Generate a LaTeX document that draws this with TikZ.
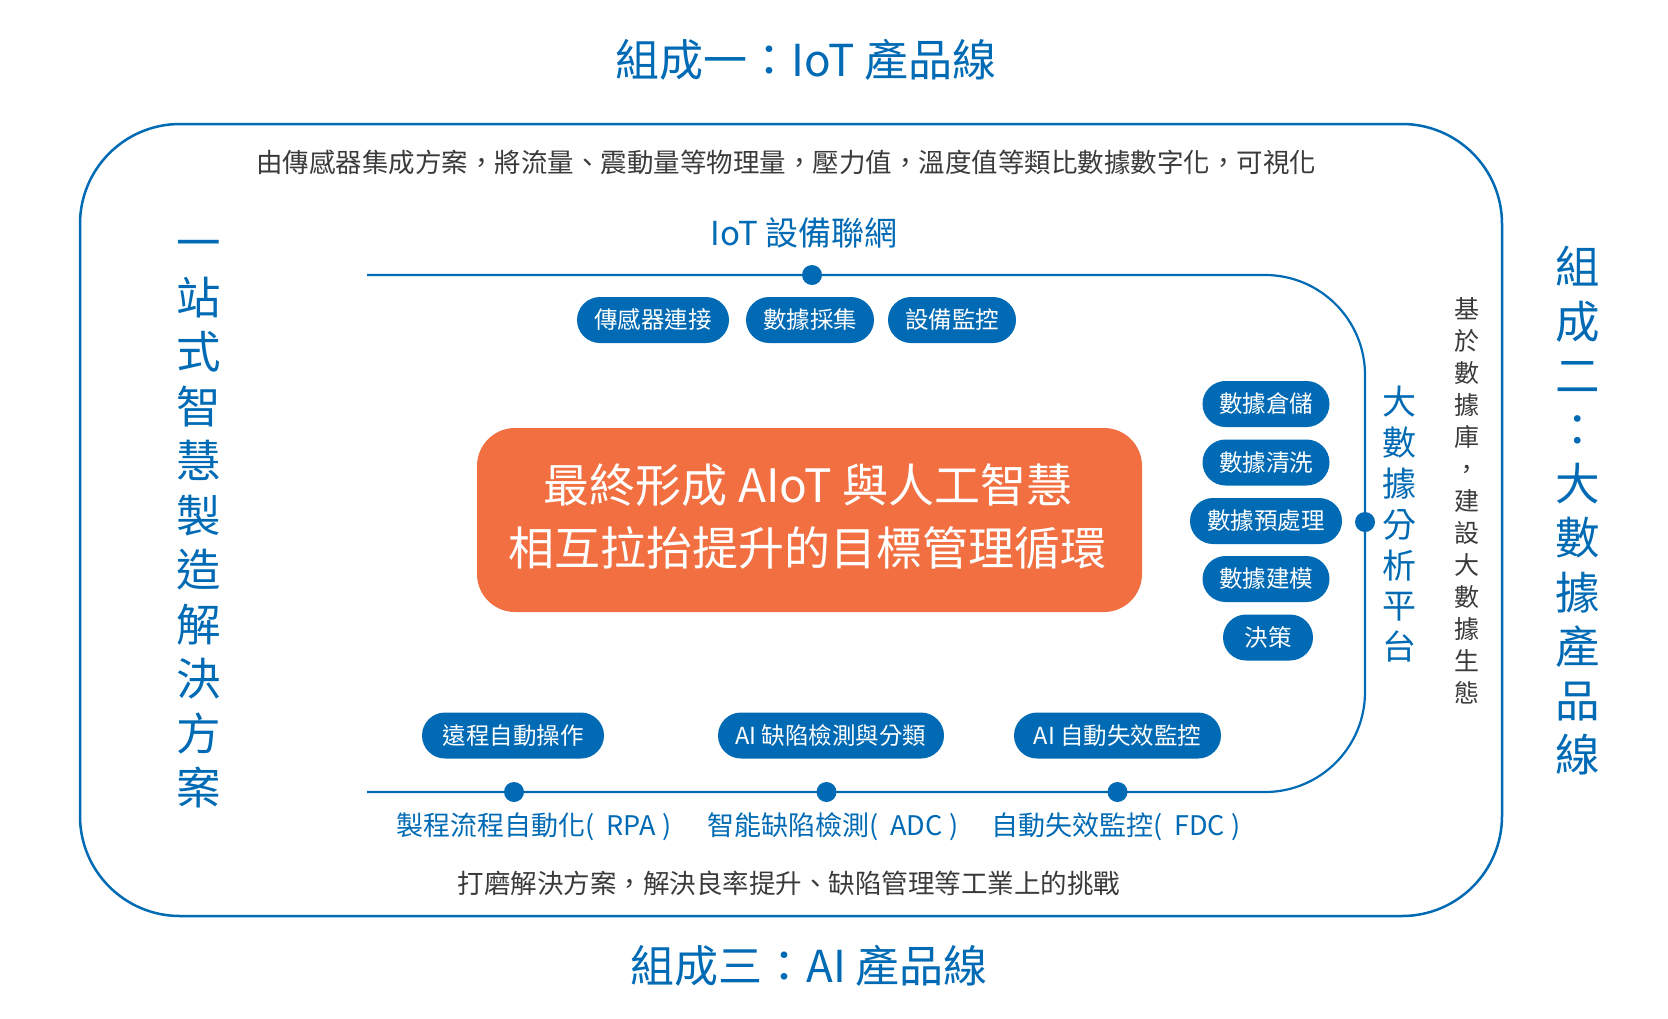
\documentclass[tikz,border=0pt]{standalone}
\usepackage{fontspec}
\setmainfont{Noto Sans CJK TC}
\definecolor{myblue}{RGB}{0,106,180}
\definecolor{myorange}{RGB}{242,111,66}
\definecolor{mygray}{RGB}{58,58,58}
\begin{document}
\begin{tikzpicture}[x=1pt,y=-1pt,
  pill/.style={fill=myblue,text=white,rounded corners=23pt,minimum height=46pt,inner sep=0pt,
    font=\fontsize{23.5}{23.5}\selectfont,text height=20.7pt,text depth=2.8pt},
  dotnode/.style={circle,fill=myblue,minimum size=20pt,inner sep=0pt},
  graytxt/.style={text=mygray,font=\fontsize{26.5}{26.5}\selectfont,inner sep=0pt,text height=23.3pt,text depth=3.2pt},
  bluelab/.style={text=myblue,font=\fontsize{27}{27}\selectfont,inner sep=0pt,text height=23.8pt,text depth=3.2pt},
  bigtitle/.style={text=myblue,font=\fontsize{44}{44}\selectfont,inner sep=0pt,text height=38.7pt,text depth=5.3pt},
  subtitle/.style={text=myblue,font=\fontsize{33}{33}\selectfont,inner sep=0pt,text height=29pt,text depth=4pt},
  vbig/.style={text=myblue,font=\fontsize{44.5}{44.5}\selectfont,inner sep=0pt,text height=39.2pt,text depth=5.3pt},
  vmid/.style={text=myblue,font=\fontsize{34}{34}\selectfont,inner sep=0pt,text height=29.9pt,text depth=4.1pt},
  vsmall/.style={text=mygray,font=\fontsize{25}{25}\selectfont,inner sep=0pt,text height=22pt,text depth=3pt},
  coretxt/.style={text=white,font=\fontsize{46}{46}\selectfont,inner sep=0pt,text height=40.5pt,text depth=5.5pt},
  frameline/.style={draw=myblue,line width=2.5pt},
  innerline/.style={draw=myblue,line width=2.2pt},
]
\useasboundingbox (0,0) rectangle (1668,1018);

% outer frame
\node[frameline,rounded corners=100pt,minimum width=1422pt,minimum height=792pt,inner sep=0pt] (frame) at (791,520) {};

% titles
\node[bigtitle] (t1) at (806,59.5) {組成一：IoT 產品線};
\node[bigtitle] (t3) at (809,966) {組成三：AI 產品線};

% gray descriptions
\node[graytxt] (g1) at (786,162.5) {由傳感器集成方案，將流量、震動量等物理量，壓力值，溫度值等類比數據數字化，可視化};
\node[graytxt] (g2) at (789,883.5) {打磨解決方案，解決良率提升、缺陷管理等工業上的挑戰};

% IoT subtitle
\node[subtitle] (iot) at (804,233) {IoT 設備聯網};

% inner loop line
\coordinate (ls) at (367,275);
\coordinate (le) at (367,792);
\coordinate (c1) at (1365,275);
\coordinate (c2) at (1365,792);
\draw[innerline,rounded corners=100pt] (ls) -- (c1) -- (c2) -- (le);

% dots
\node[dotnode] (dtop) at (812,275) {};
\node[dotnode] (dright) at (1365,522) {};
\node[dotnode] (db1) at (514,792) {};
\node[dotnode] (db2) at (826.5,792) {};
\node[dotnode] (db3) at (1117.5,792) {};

% top pills
\node[pill,minimum width=152pt] (p1) at (653,320) {傳感器連接};
\node[pill,minimum width=128pt] (p2) at (810,320) {數據採集};
\node[pill,minimum width=128pt] (p3) at (952,320) {設備監控};

% right pills
\node[pill,minimum width=127pt] (r1) at (1266,404) {數據倉儲};
\node[pill,minimum width=127pt] (r2) at (1266,462.5) {數據清洗};
\node[pill,minimum width=152pt] (r3) at (1266,521) {數據預處理};
\node[pill,minimum width=127pt] (r4) at (1266,579) {數據建模};
\node[pill,minimum width=90pt] (r5) at (1268,637.5) {決策};

% bottom pills
\node[pill,minimum width=182pt] (b1) at (513,735.5) {遠程自動操作};
\node[pill,minimum width=226pt] (b2) at (831,735.5) {AI 缺陷檢測與分類};
\node[pill,minimum width=207pt] (b3) at (1117.5,735.5) {AI 自動失效監控};

% bottom labels
\node[bluelab] (l1) at (534,825.5) {製程流程自動化(\hspace{0.45em}RPA\hspace{0.25em})};
\node[bluelab] (l2) at (833,825.5) {智能缺陷檢測(\hspace{0.45em}ADC\hspace{0.25em})};
\node[bluelab] (l3) at (1116,825.5) {自動失效監控(\hspace{0.45em}FDC\hspace{0.25em})};

% center box
\node[fill=myorange,rounded corners=38pt,minimum width=665pt,minimum height=184pt,inner sep=0pt] (core) at (809.5,520) {};
\node[coretxt] (core1) at (808,485) {最終形成 AIoT 與人工智慧};
\node[coretxt] (core2) at (807,548) {相互拉抬提升的目標管理循環};

% vertical texts
\foreach \c [count=\i] in {一,站,式,智,慧,製,造,解,決,方,案}
  \node[vbig] (left\i) at (199,{243+54.5*(\i-1)}) {\c};
\foreach \c [count=\i] in {組,成,二,：,大,數,據,產,品,線}
  \node[vbig] (right\i) at (1578,{267+54.2*(\i-1)}) {\c};
\foreach \c [count=\i] in {大,數,據,分,析,平,台}
  \node[vmid] (bd\i) at (1399,{402+40.8*(\i-1)}) {\c};
\foreach \c [count=\i] in {基,於,數,據,庫,，,建,設,大,數,據,生,態}
  \node[vsmall] (eco\i) at (1467,{309+32*(\i-1)}) {\c};
\end{tikzpicture}
\end{document}
